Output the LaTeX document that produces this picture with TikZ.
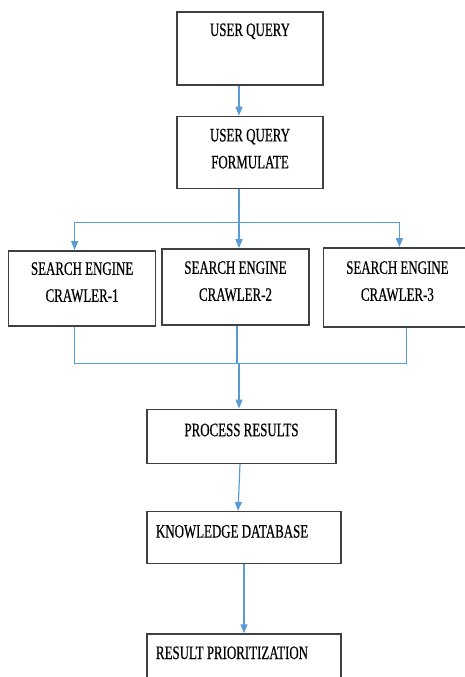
\documentclass[tikz,border=0pt]{standalone}
\usepackage{fontspec}
\setmainfont[FakeStretch=0.68,FakeBold=0.5]{Liberation Serif}
\usetikzlibrary{positioning,arrows.meta,calc}
\definecolor{linkblue}{RGB}{91,155,213}
\definecolor{boxgray}{RGB}{64,64,64}

\begin{document}
\begin{tikzpicture}[x=1pt,y=-1pt,>={Triangle[length=9pt,width=7pt]},
   box/.style={draw=boxgray,line width=1.4pt,inner sep=0pt,align=center,
     font=\fontsize{19}{27}\selectfont},
   link/.style={draw=linkblue,line width=1.2pt}]
  \useasboundingbox (0,0) rectangle (465,677);
  \node[box,minimum width=146pt,text height=24pt,text depth=49pt] (uq) at (250,48.5) {USER QUERY};
  \node[box,minimum width=146pt,text height=52pt,text depth=20pt] (uqf) [below=30pt of uq] {USER QUERY\\FORMULATE};
  \node[box,minimum width=147pt,text height=52pt,text depth=24pt] (c2) [below=59pt of uqf,xshift=-14.5pt] {SEARCH ENGINE\\CRAWLER-2};
  \node[box,minimum width=147pt,text height=51pt,text depth=24pt] (c1) [left=5pt of c2,yshift=-1.5pt] {SEARCH ENGINE\\CRAWLER-1};
  \node[box,minimum width=148pt,text height=53pt,text depth=26pt] (c3) [right=13pt of c2,yshift=-0.5pt] {SEARCH ENGINE\\CRAWLER-3};
  \node[box,minimum width=189pt,text height=27pt,text depth=27pt] (pr) [below=83pt of c2,xshift=6pt] {PROCESS RESULTS};
  \node[box,align=flush left,text width=176pt,inner xsep=9pt,text height=26pt,text depth=26pt] (kd) [below=47pt of pr,xshift=2.5pt] {KNOWLEDGE DATABASE};
  \node[box,align=flush left,text width=176pt,inner xsep=9pt,text height=25pt,text depth=38pt] (rp) [below=69pt of kd] {RESULT PRIORITIZATION};
  % split to the crawlers
  \coordinate (split) at ($(uqf.south)+(-11,33)$);
  \coordinate (merge) at ($(pr.north)+(-2.5,-45)$);
  \draw[link,->] ([xshift=-11pt]uq.south) -- ([xshift=-11pt]uqf.north);
  \draw[link,->] ([xshift=-11pt]uqf.south) -- ([xshift=3.5pt]c2.north);
  \draw[link,->] (split) -| ([xshift=-7.5pt]c1.north);
  \draw[link,->] (split) -| ([xshift=2pt]c3.north);
  % merge of the results
  \draw[link] ([xshift=-7.5pt]c1.south) |- (merge) -| ([xshift=9pt]c3.south);
  \draw[link] ([xshift=1.5pt]c2.south) -- ([xshift=1.5pt]c2.south |- merge);
  \draw[link,->] (merge) -- ([xshift=-2.5pt]pr.north);
  \draw[link,->] ([xshift=-1.5pt]pr.south) -- ([xshift=-6pt]kd.north);
  \draw[link,->] (kd.south) -- (rp.north);
\end{tikzpicture}
\end{document}
